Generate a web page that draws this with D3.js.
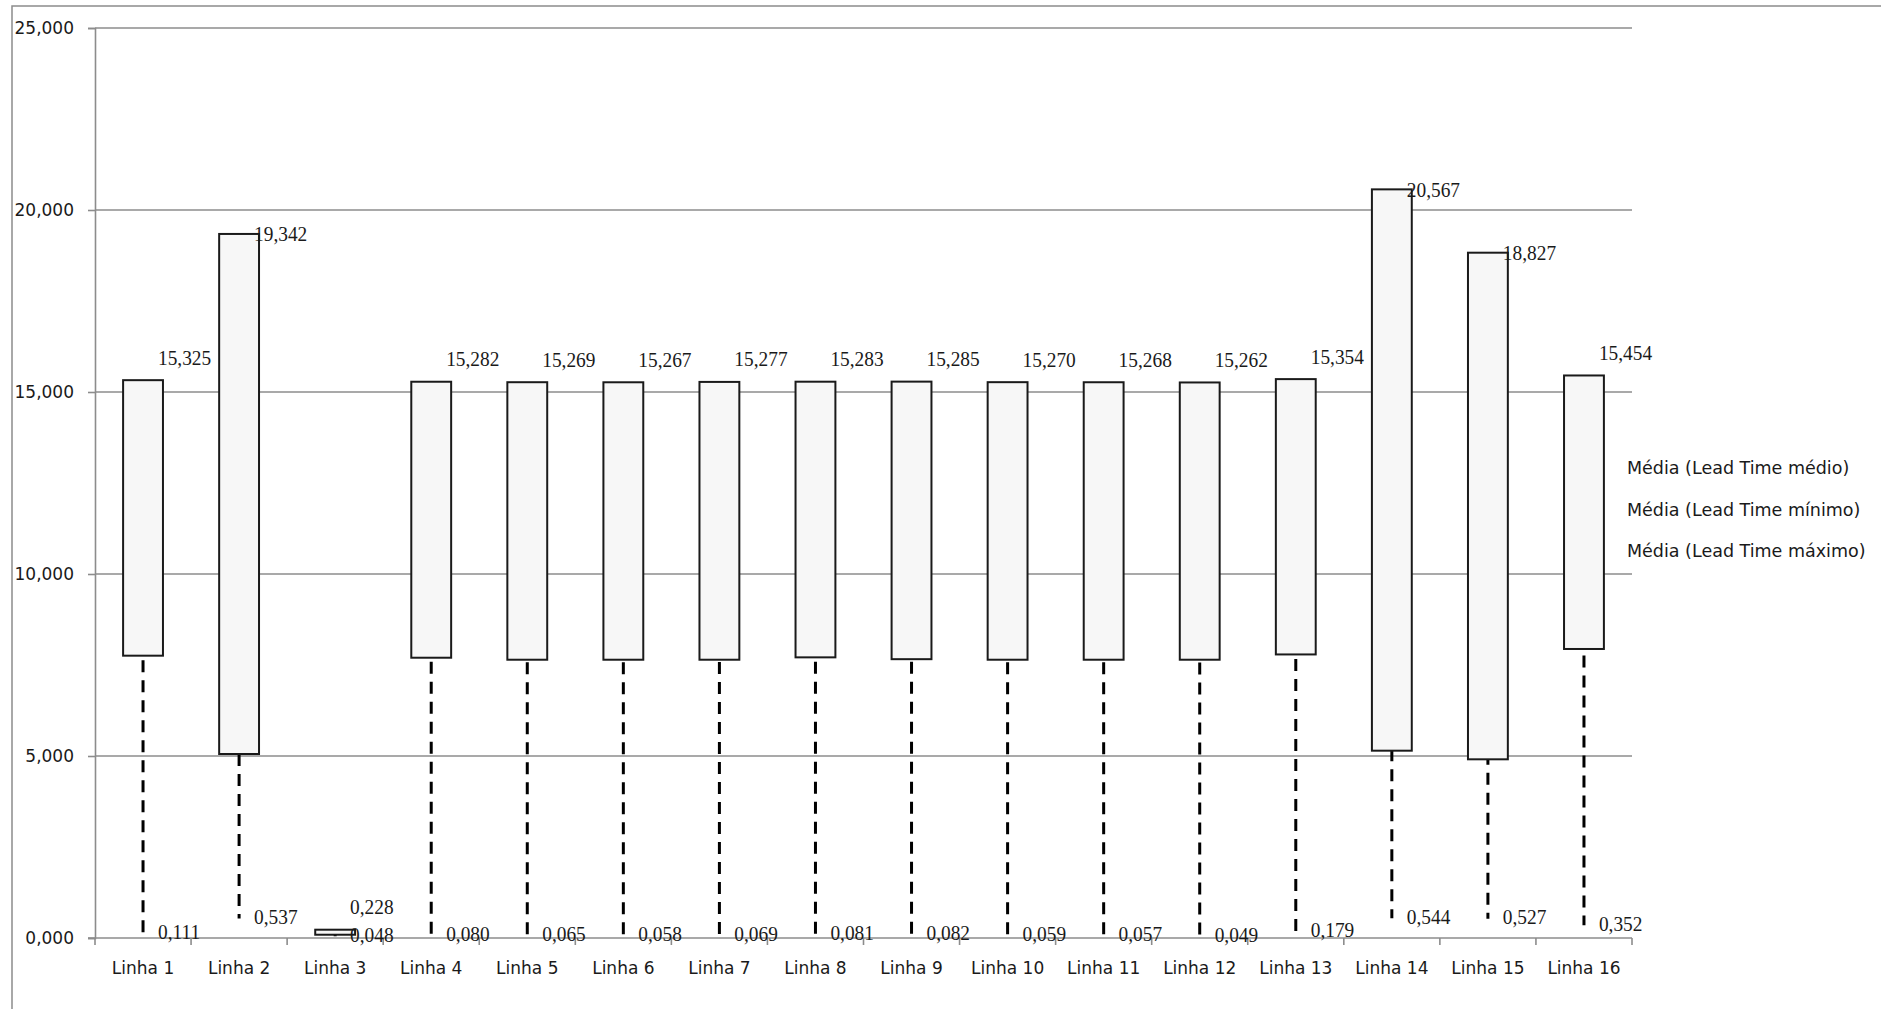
<!DOCTYPE html>
<html>
<head>
<meta charset="utf-8">
<script src="https://cdn.jsdelivr.net/npm/d3@7"></script>
<style>
  html, body { margin: 0; padding: 0; background: #ffffff; }
  svg { display: block; }
</style>
</head>
<body>
<svg id="chart" width="1881" height="1009"></svg>
<script>
// ---- data ----
const categories = ["Linha 1","Linha 2","Linha 3","Linha 4","Linha 5","Linha 6","Linha 7","Linha 8",
                    "Linha 9","Linha 10","Linha 11","Linha 12","Linha 13","Linha 14","Linha 15","Linha 16"];
const maxValues = [15.325, 19.342, 0.228, 15.282, 15.269, 15.267, 15.277, 15.283,
                   15.285, 15.270, 15.268, 15.262, 15.354, 20.567, 18.827, 15.454];
const avgValues = [7.756, 5.055, 0.090, 7.700, 7.645, 7.645, 7.645, 7.710,
                   7.660, 7.645, 7.645, 7.645, 7.790, 5.146, 4.909, 7.940];
const minValues = [0.111, 0.537, 0.048, 0.080, 0.065, 0.058, 0.069, 0.081,
                   0.082, 0.059, 0.057, 0.049, 0.179, 0.544, 0.527, 0.352];
const yTicks = [0, 5, 10, 15, 20, 25];
const legendLabels = ["Média (Lead Time médio)", "Média (Lead Time mínimo)", "Média (Lead Time máximo)"];

// ---- setup ----
const svg = d3.select("#chart");
const locale = d3.formatLocale({decimal: ",", thousands: ".", grouping: [3], currency: ["", ""]});
const fmt = locale.format(".3f");

const x = d3.scaleBand().domain(categories).range([95, 1632]).padding(0);
const y = d3.scaleLinear().domain([0, 25]).range([938, 28]);
const bw = x.bandwidth();
const boxW = bw * 0.415;

const sans = "'DejaVu Sans', Verdana, sans-serif";
const serif = "'Liberation Serif', 'Times New Roman', serif";
const gridColor = "#8c8c8c";

// outer frame
svg.append("rect").attr("x", 12).attr("y", 6).attr("width", 1950).attr("height", 1100)
  .attr("fill", "none").attr("stroke", "#8c8c8c").attr("stroke-width", 1.5);

// gridlines
svg.append("g").selectAll("line").data(yTicks.filter(d => d > 0)).join("line")
  .attr("x1", x.range()[0]).attr("x2", x.range()[1])
  .attr("y1", d => y(d)).attr("y2", d => y(d))
  .attr("stroke", gridColor).attr("stroke-width", 1.6);

// y axis
const yAxis = svg.append("g").attr("transform", `translate(${x.range()[0]},0)`)
  .call(d3.axisLeft(y).tickValues(yTicks).tickFormat(fmt).tickSize(7).tickPadding(14));
yAxis.select(".domain").attr("stroke", gridColor).attr("stroke-width", 1.6);
yAxis.selectAll(".tick line").attr("stroke", gridColor).attr("stroke-width", 1.6);
yAxis.selectAll("text").attr("font-family", sans).attr("font-size", 17).attr("fill", "#1a1a1a");

// x axis
const xAxis = svg.append("g").attr("transform", `translate(0,${y(0)})`)
  .call(d3.axisBottom(x).tickSize(0).tickPadding(24));
xAxis.select(".domain").remove();
xAxis.selectAll("text").attr("font-family", sans).attr("font-size", 17).attr("fill", "#1a1a1a");
svg.append("line").attr("x1", x.range()[0] - 7).attr("x2", x.range()[1])
  .attr("y1", y(0)).attr("y2", y(0)).attr("stroke", gridColor).attr("stroke-width", 1.6);
const bounds = d3.range(categories.length + 1).map(i => x.range()[0] + i * bw);
svg.append("g").selectAll("line").data(bounds).join("line")
  .attr("x1", d => d).attr("x2", d => d).attr("y1", y(0)).attr("y2", y(0) + 7)
  .attr("stroke", gridColor).attr("stroke-width", 1.6);

const rows = categories.map((c, i) => ({c, max: maxValues[i], avg: avgValues[i], min: minValues[i]}));
const cx = d => x(d.c) + bw / 2;

// dashed low lines (drawn from top, box covers the upper part)
svg.append("g").selectAll("line").data(rows).join("line")
  .attr("x1", cx).attr("x2", cx)
  .attr("y1", d => y(d.max)).attr("y2", d => y(d.min))
  .attr("stroke", "#000").attr("stroke-width", 3)
  .attr("stroke-dasharray", "12,8");

// boxes
svg.append("g").selectAll("rect").data(rows).join("rect")
  .attr("x", d => cx(d) - boxW / 2).attr("width", boxW)
  .attr("y", d => y(d.max)).attr("height", d => y(d.avg) - y(d.max))
  .attr("fill", "#f7f7f7").attr("stroke", "#1a1a1a").attr("stroke-width", 2);

// value labels
const labelG = svg.append("g").attr("font-family", serif).attr("font-size", 22).attr("fill", "#1a1a1a");
function addLabel(xp, yp, txt) {
  labelG.append("text").attr("transform", `translate(${xp},${yp}) scale(0.88,1)`)
    .attr("dominant-baseline", "central").text(txt);
}
rows.forEach(d => {
  const xr = cx(d) + boxW / 2;
  const raised = d.max < 17 ? 23 : 0;
  addLabel(xr - 5, y(d.max) - raised, fmt(d.max));
  addLabel(xr - 5, y(d.min) - 2, fmt(d.min));
});

// legend (entries without markers)
svg.append("g").selectAll("text").data(legendLabels).join("text")
  .attr("x", 1627).attr("y", (d, i) => 468 + i * 41.5)
  .attr("dominant-baseline", "central")
  .attr("font-family", sans).attr("font-size", 17.5).attr("fill", "#1a1a1a")
  .text(d => d);
</script>
</body>
</html>
